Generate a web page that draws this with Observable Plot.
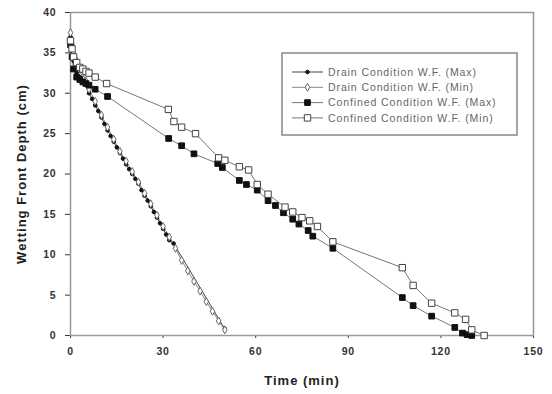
<!DOCTYPE html>
<html><head><meta charset="utf-8">
<script src="https://cdn.jsdelivr.net/npm/d3@7"></script>
<script src="https://cdn.jsdelivr.net/npm/@observablehq/plot@0.6"></script>
<style>
body{margin:0;background:#fff}
#chart{position:relative;width:552px;height:394px}
svg [aria-label="x-axis label"] text, svg [aria-label="y-axis label"] text {font-weight:bold;font-size:13px;letter-spacing:1px;fill:#222}
svg [aria-label="x-axis tick label"] text, svg [aria-label="y-axis tick label"] text {font-weight:bold;font-size:10.5px;letter-spacing:0.8px;fill:#333}
</style>
</head><body><div id="chart"></div><script>
// Series names
const seriesNames = ["Drain Condition W.F. (Max)","Drain Condition W.F. (Min)","Confined Condition W.F. (Max)","Confined Condition W.F. (Min)"];
// Drain Condition (Max)
const drainMaxT = [0,0.3,0.6,1,1.5,2,3,4,5,6,7,8,9,10,11,12,13,14,15,16,17,18,19,20,21,22,23,24,25,26,27,28,29,30,31,32,33.4,50];
const drainMaxD = [37,36,35,34,33,32.5,32,31.5,31,30,29.3,28.5,27.8,27,26.2,25.4,24.7,24,23.3,22.6,21.9,21.2,20.6,20,19.4,18.8,18,17.3,16.7,16,15.3,14.6,13.9,13.2,12.5,11.8,11.4,0.8];
// Drain Condition (Min)
const drainMinT = [0,0.5,1,2,3,4,5,6,8,10,12,14,16,18,20,22,24,26,28,30,32,34,36,38,40,42,44,46,48,50];
const drainMinD = [37.5,36,35,34,33,32.5,31.5,30.5,29,27.3,25.8,24.3,22.8,21.6,20.3,19,17.6,16.3,14.9,13.5,12.2,10.8,9.3,8,6.7,5.5,4.2,3,1.8,0.7];
// Confined Condition (Max)
const confMaxT = [0,0.5,1,2,3,4,5,6,8,12,31.8,36,40,47.7,49.2,54.7,57,60.5,64,66.4,69,72,74,77,78.5,85,107.5,111,117,124.5,127,128.5,130];
const confMaxD = [36,34.5,33,32,31.7,31.4,31.2,31,30.5,29.6,24.4,23.5,22.5,21.3,20.8,19.2,18.7,18,16.7,16.1,15.2,14.4,13.8,13,12.3,10.8,4.7,3.7,2.4,1,0.3,0.1,0];
// Confined Condition (Min)
const confMinT = [0,0.5,1,2,3,4,5,6,8,11.7,31.7,33.5,36,40.5,48,50,54.7,57.7,60.5,64,69.5,72,75,77.5,80,85,107.5,111,117,124.5,128,130,134];
const confMinD = [36.5,35.5,34.5,33.8,33.2,33,32.7,32.5,32,31.2,28,26.5,25.8,25,22,21.7,20.9,20.5,18.7,17.5,15.9,15.3,14.6,14.2,13.5,11.6,8.4,6.2,4,2.8,2,0.7,0];
// Axis ticks
const xTicks = [0,30,60,90,120,150];
const yTicks = [0,5,10,15,20,25,30,35,40];

const mk = (T, D, s) => T.map((t, i) => ({t, d: D[i], series: s}));
const drainMax = mk(drainMaxT, drainMaxD, seriesNames[0]);
const drainMin = mk(drainMinT, drainMinD, seriesNames[1]);
const confMax = mk(confMaxT, confMaxD, seriesNames[2]);
const confMin = mk(confMinT, confMinD, seriesNames[3]);

const styles = [
  {line:"#444", symbol:"circle", r:1.8, fill:"#111", stroke:"#111"},
  {line:"#888", symbol:"diamond", r:2.4, fill:"#fff", stroke:"#666"},
  {line:"#777", symbol:"square", r:3.2, fill:"#111", stroke:"#111"},
  {line:"#777", symbol:"square", r:3.6, fill:"#fff", stroke:"#444"}
];
const sets = [drainMax, drainMin, confMax, confMin];

const marks = [Plot.frame({stroke:"#999", strokeWidth:1.5})];
sets.forEach((data, i) => {
  const s = styles[i];
  marks.push(Plot.line(data, {x:"t", y:"d", stroke:s.line, strokeWidth:1}));
});
sets.forEach((data, i) => {
  const s = styles[i];
  marks.push(Plot.dot(data, {x:"t", y:"d", symbol:()=>s.symbol, r:s.r, fill:s.fill, stroke:s.stroke, strokeWidth:1}));
});

const plot = Plot.plot({
  width:552, height:394,
  marginLeft:70, marginRight:19, marginTop:12, marginBottom:59,
  style:{fontFamily:"'Liberation Sans', Arial, sans-serif", fontSize:"10px", background:"#fff", color:"#333"},
  symbol:{type:"identity"},
  x:{domain:[0,150], ticks:xTicks, tickSize:3, tickPadding:9, label:"Time (min)", labelArrow:false, labelAnchor:"center", labelOffset:49},
  y:{domain:[0,40], ticks:yTicks, tickSize:5, tickPadding:9, label:"Wetting Front Depth (cm)", labelArrow:false, labelAnchor:"center", labelOffset:54},
  marks
});
document.getElementById("chart").appendChild(plot);

// Legend inside the plot area
const svg = d3.select(plot);
const lg = svg.append("g").attr("font-family","'Liberation Sans', Arial, sans-serif").attr("text-anchor","start");
lg.append("rect").attr("x",282).attr("y",53).attr("width",235).attr("height",82)
  .attr("fill","#fff").attr("stroke","#888").attr("stroke-width",1.5);
seriesNames.forEach((name, i) => {
  const y = 72 + i * 15.3;
  const s = styles[i];
  lg.append("line").attr("x1",292).attr("x2",323).attr("y1",y).attr("y2",y).attr("stroke",s.line).attr("stroke-width",1);
  const type = s.symbol === "circle" ? d3.symbolCircle : s.symbol === "diamond" ? d3.symbolDiamond : d3.symbolSquare;
  lg.append("path").attr("d", d3.symbol(type, Math.PI * s.r * s.r)())
    .attr("transform",`translate(307.5,${y})`).attr("fill",s.fill).attr("stroke",s.stroke);
  lg.append("text").attr("x",328).attr("y",y).attr("dy","0.35em").attr("font-size","10.5px")
    .attr("text-anchor","start").attr("letter-spacing","0.9px").attr("fill","#666").text(name);
});
</script></body></html>
